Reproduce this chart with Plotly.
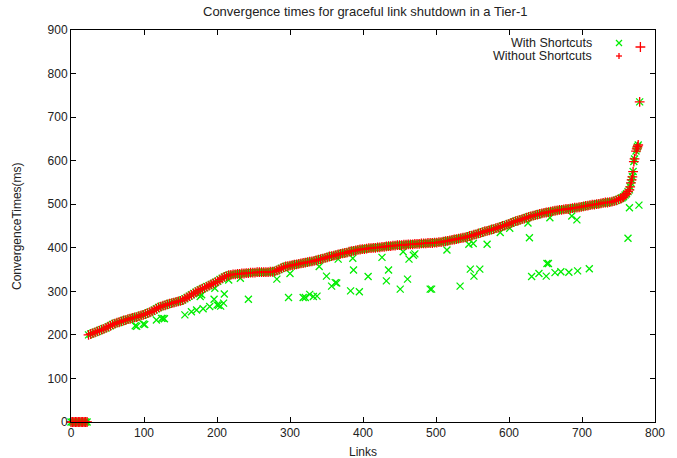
import plotly.graph_objects as go

# ---------------- data ----------------
# links whose convergence time is 0 (both series)
zero_points = [(0, 0), (2, 0), (4, 0), (6, 0), (8, 0), (10, 0), (12, 0), (14, 0),
               (16, 0), (18, 0), (20, 0), (22, 0)]

# "Without Shortcuts": sorted convergence times (link, ms)
without_points = [
    (24, 200), (27, 202), (30, 204), (33, 206), (36, 208), (39, 210), (42, 212), (45, 214),
    (48, 216), (51, 219), (54, 221), (57, 224), (60, 226), (63, 228), (66, 229), (69, 231),
    (72, 233), (75, 234), (78, 236), (81, 237), (84, 239), (87, 240), (90, 241), (93, 243),
    (96, 245), (99, 246), (102, 248), (105, 250), (108, 252), (111, 254), (114, 257), (117, 260),
    (120, 263), (123, 265), (126, 267), (129, 268), (132, 270), (135, 272), (138, 273), (141, 274),
    (144, 276), (147, 277), (150, 278), (153, 280), (156, 283), (159, 286), (162, 289), (165, 292),
    (168, 295), (171, 298), (174, 301), (177, 304), (180, 306), (183, 308), (186, 311), (189, 313),
    (192, 316), (195, 318), (198, 321), (201, 323), (204, 327), (207, 330), (210, 333), (213, 335),
    (216, 337), (219, 338), (222, 339), (225, 339), (228, 340), (231, 340), (234, 341), (237, 341),
    (240, 342), (243, 342), (246, 343), (249, 343), (252, 343), (255, 344), (258, 344), (261, 344),
    (264, 344), (267, 344), (270, 344), (273, 345), (276, 345), (279, 346), (282, 348), (285, 350),
    (288, 353), (291, 355), (294, 357), (297, 358), (300, 359), (303, 360), (306, 361), (309, 362),
    (312, 363), (315, 364), (318, 365), (321, 366), (324, 367), (327, 368), (330, 369), (333, 370),
    (336, 371), (339, 373), (342, 374), (345, 375), (348, 377), (351, 378), (354, 380), (357, 381),
    (360, 382), (363, 383), (366, 385), (369, 386), (372, 387), (375, 388), (378, 389), (381, 391),
    (384, 392), (387, 393), (390, 394), (393, 395), (396, 396), (399, 397), (402, 397), (405, 398),
    (408, 399), (411, 399), (414, 400), (417, 400), (420, 401), (423, 401), (426, 402), (429, 402),
    (432, 403), (435, 404), (438, 404), (441, 405), (444, 405), (447, 406), (450, 406), (453, 406),
    (456, 407), (459, 407), (462, 408), (465, 408), (468, 408), (471, 409), (474, 409), (477, 409),
    (480, 410), (483, 410), (486, 410), (489, 411), (492, 411), (495, 411), (498, 412), (501, 412),
    (504, 413), (507, 413), (510, 414), (513, 415), (516, 416), (519, 417), (522, 418), (525, 419),
    (528, 420), (531, 421), (534, 422), (537, 423), (540, 424), (543, 425), (546, 427), (549, 428),
    (552, 430), (555, 431), (558, 433), (561, 434), (564, 436), (567, 438), (570, 439), (573, 440),
    (576, 442), (579, 443), (582, 445), (585, 446), (588, 448), (591, 450), (594, 451), (597, 453),
    (600, 455), (603, 457), (606, 459), (609, 461), (612, 462), (615, 464), (618, 466), (621, 467),
    (624, 469), (627, 471), (630, 472), (633, 474), (636, 475), (639, 476), (642, 478), (645, 479),
    (648, 480), (651, 481), (654, 482), (657, 483), (660, 484), (663, 485), (666, 486), (669, 487),
    (672, 487), (675, 488), (678, 489), (681, 489), (684, 490), (687, 491), (690, 492), (693, 492),
    (696, 493), (699, 494), (702, 495), (705, 496), (708, 497), (711, 498), (714, 499), (717, 499),
    (720, 500), (723, 501), (726, 502), (729, 503), (732, 504), (735, 504), (738, 505), (741, 506),
    (744, 507), (747, 509), (750, 511), (753, 513), (755, 515), (757, 517), (759, 521), (761, 524),
    (763, 529), (765, 533), (766, 540), (767, 549), (768, 556), (769, 563), (770, 575), (771, 598),
    (772, 604), (774, 622), (775, 627), (776, 632), (777, 636), (779, 735), (780, 861),
]

# "With Shortcuts": same as above for most links (all but the last), plus these lower values
with_outlier_points = [
    (88, 221), (90, 220), (99, 225), (101, 224), (117, 234), (124, 238), (126, 238), (128, 237),
    (156, 246), (165, 253), (172, 257), (176, 295), (177, 288), (179, 292), (181, 260), (190, 265),
    (196, 282), (197, 307), (200, 269), (202, 268), (205, 266), (209, 273), (210, 294), (216, 326),
    (232, 330), (243, 282), (282, 328), (298, 286), (300, 341), (318, 286), (321, 286), (327, 293),
    (332, 288), (337, 289), (340, 357), (350, 335), (357, 312), (362, 320), (364, 319), (366, 374),
    (383, 301), (386, 376), (387, 349), (395, 299), (407, 334), (426, 378), (432, 324), (435, 349),
    (451, 305), (455, 391), (461, 328), (463, 374), (469, 383), (471, 386), (492, 305), (494, 305),
    (515, 395), (533, 312), (545, 408), (547, 351), (551, 410), (552, 335), (560, 351), (570, 408),
    (588, 435), (601, 445), (626, 457), (628, 423), (631, 334), (641, 341), (651, 335), (652, 364),
    (654, 364), (656, 469), (663, 343), (671, 345), (682, 344), (686, 473), (693, 464), (694, 347),
    (710, 352), (763, 422), (765, 492), (778, 498),
]

x_ticks = [0, 100, 200, 300, 400, 500, 600, 700, 800]
y_ticks = [0, 100, 200, 300, 400, 500, 600, 700, 800, 900]

title = "Convergence times for graceful link shutdown in a Tier-1"
x_label = "Links"
y_label = "ConvergenceTimes(ms)"
series_names = ["With Shortcuts", "Without Shortcuts"]

# ---------------- styling ----------------
GREEN = "#00ee00"
RED = "#ff0000"
TXT = "#222222"
FONT = "Liberation Sans, Arial, sans-serif"
W, H = 677, 458
L, R, T, B = 71, 655, 30, 422  # plot area in page pixels

without_all = zero_points + without_points
with_all = zero_points + without_points[:-1] + with_outlier_points

fig = go.Figure()
fig.add_trace(go.Scatter(
    x=[p[0] for p in with_all], y=[p[1] for p in with_all],
    mode="markers", name=series_names[0], showlegend=False, cliponaxis=False,
    marker=dict(symbol="x-thin", size=7, line=dict(width=1.3, color=GREEN))))
fig.add_trace(go.Scatter(
    x=[p[0] for p in without_all], y=[p[1] for p in without_all],
    mode="markers", name=series_names[1], showlegend=False, cliponaxis=False,
    marker=dict(symbol="cross-thin", size=7, line=dict(width=1.3, color=RED))))


def px2paper(px, py):
    return (px - L) / (R - L), (B - py) / (B - T)


shapes = []
annotations = []
# gnuplot-style key: text right-aligned, sample to its right
leg_rows = [(43, series_names[0], GREEN, "x"), (56, series_names[1], RED, "+")]
for py, name, col, sym in leg_rows:
    tx, ty = px2paper(594, py)
    annotations.append(dict(text=name, x=tx, y=ty, xref="paper", yref="paper",
                            xanchor="right", yanchor="middle", showarrow=False,
                            font=dict(family=FONT, size=12.5, color=TXT)))
    cx, cy, d = 619, py, 3
    if sym == "x":
        segs = [((cx - d, cy - d), (cx + d, cy + d)), ((cx - d, cy + d), (cx + d, cy - d))]
    else:
        segs = [((cx - d, cy), (cx + d, cy)), ((cx, cy - d), (cx, cy + d))]
    for a, b in segs:
        x0, y0 = px2paper(*a)
        x1, y1 = px2paper(*b)
        shapes.append(dict(type="line", xref="paper", yref="paper",
                           x0=x0, y0=y0, x1=x1, y1=y1,
                           line=dict(color=col, width=1.3)))

annotations.append(dict(text=title, x=(365 - L) / (R - L), y=1, xref="paper", yref="paper",
                        xanchor="center", yanchor="middle", yshift=T - 11,
                        showarrow=False, font=dict(family=FONT, size=13, color=TXT)))
annotations.append(dict(text=x_label, x=0.5, y=0, xref="paper", yref="paper",
                        xanchor="center", yanchor="top", yshift=-21,
                        showarrow=False, font=dict(family=FONT, size=12, color=TXT)))
annotations.append(dict(text=y_label, x=0, y=0.5, xref="paper", yref="paper",
                        xanchor="center", yanchor="middle", xshift=-(L - 17), textangle=-90,
                        showarrow=False, font=dict(family=FONT, size=12, color=TXT)))

axis_common = dict(showgrid=False, zeroline=False, showline=True, linecolor="black",
                   linewidth=1, mirror="ticks", ticks="inside", ticklen=5,
                   tickcolor="black", tickwidth=1, automargin=False,
                   tickfont=dict(family=FONT, size=12, color=TXT))

fig.update_layout(
    width=W, height=H,
    margin=dict(l=L, r=W - R, t=T, b=H - B, pad=0),
    paper_bgcolor="white", plot_bgcolor="white",
    xaxis=dict(range=[0, 800], tickvals=x_ticks, **axis_common),
    yaxis=dict(range=[0, 900], tickvals=y_ticks, **axis_common),
    shapes=shapes, annotations=annotations,
)

fig.write_html(
    "out.html",
    config={"displayModeBar": False},
    post_script="document.body.style.margin='0px';document.body.style.overflow='hidden';",
)
